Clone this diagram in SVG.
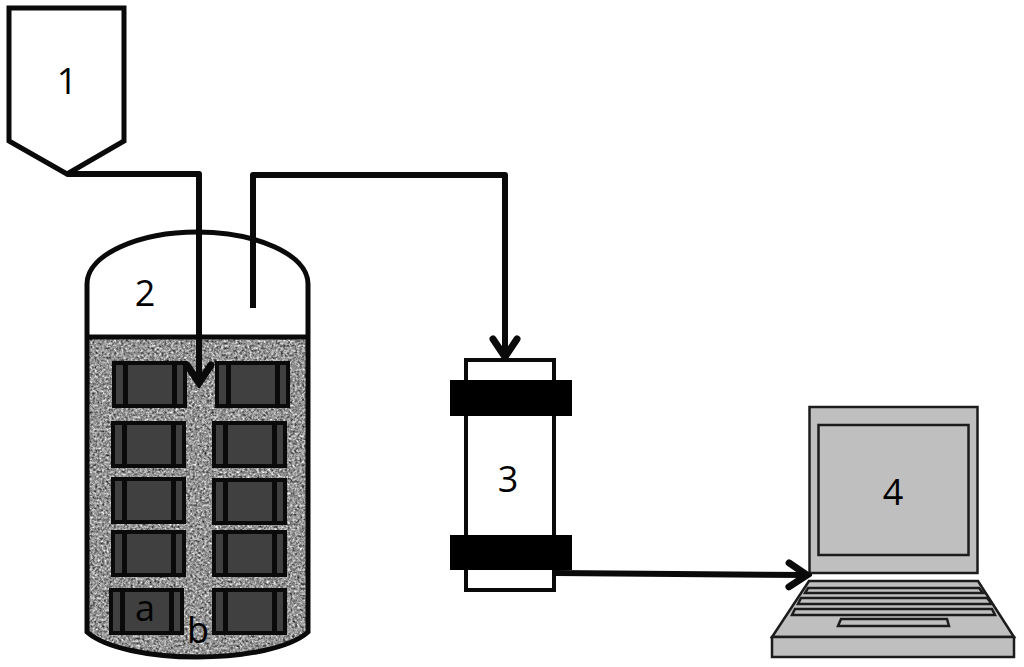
<svg xmlns="http://www.w3.org/2000/svg" xmlns:xlink="http://www.w3.org/1999/xlink" width="1024" height="667" viewBox="0 0 1024 667">
<style>
text{font-family:"Open Sans","Noto Sans","Liberation Sans",sans-serif;font-size:36px;fill:#000;text-anchor:middle}
.k{fill:none;stroke:#0a0a0a;stroke-width:6;stroke-linejoin:round}
.ln{fill:none;stroke:#0a0a0a;stroke-width:5}
.lp{fill:#bfbfbf;stroke:#1c1c1c;stroke-width:2.500;stroke-linejoin:miter}
.band{fill:#000}
</style>
<defs>
<filter id="noise" x="0" y="0" width="100%" height="100%" color-interpolation-filters="sRGB">
<feTurbulence type="fractalNoise" baseFrequency="0.42" numOctaves="2" seed="4"/>
<feColorMatrix type="matrix" values="0.6 0.6 0.6 0 -0.32  0.6 0.6 0.6 0 -0.32  0.6 0.6 0.6 0 -0.32  0 0 0 0 1"/>
<feGaussianBlur stdDeviation="0.6"/>
</filter>
<clipPath id="liquid"><path d="M86 337H309V634C290 650 245 659 197 659C150 659 105 650 86 634Z"/></clipPath>
<g id="blk">
<rect x="2" y="2" width="71" height="43" fill="#404040" stroke="#0a0a0a" stroke-width="4"/>
<rect x="11" y="2" width="5" height="43" fill="#0a0a0a"/>
<rect x="60" y="2" width="5" height="43" fill="#0a0a0a"/>
</g>
<marker id="ah" viewBox="0 0 28 34" refX="24" refY="17" markerWidth="28" markerHeight="34" markerUnits="userSpaceOnUse" orient="auto">
<path d="M5 5L23 17L5 29" fill="none" stroke="#0a0a0a" stroke-width="7" stroke-linecap="round" stroke-linejoin="miter"/>
</marker>
</defs>
<rect width="1024" height="667" fill="#fff"/>
<g id="node-1">
<path d="M9 8H124V141L67 174L9 141Z" fill="#fff" stroke="#0a0a0a" stroke-width="5"/>
<text x="67" y="94">1</text>
</g>
<g id="node-2">
<g clip-path="url(#liquid)"><rect x="86" y="337" width="223" height="322" fill="#999" filter="url(#noise)"/></g>
<path class="ln" d="M87 337V284C87 254 140 232 197 232C255 232 308 254 308 284V632C290 648 245 657 197 657C150 657 105 648 87 632V337H308"/>
<g id="node-a">
<use xlink:href="#blk" href="#blk" x="112" y="361"/>
<use xlink:href="#blk" href="#blk" x="215" y="361"/>
<use xlink:href="#blk" href="#blk" x="111" y="421"/>
<use xlink:href="#blk" href="#blk" x="212" y="421"/>
<use xlink:href="#blk" href="#blk" x="111" y="477"/>
<use xlink:href="#blk" href="#blk" x="212" y="478"/>
<use xlink:href="#blk" href="#blk" x="111" y="530"/>
<use xlink:href="#blk" href="#blk" x="212" y="530"/>
<use xlink:href="#blk" href="#blk" x="109" y="588"/>
<use xlink:href="#blk" href="#blk" x="212" y="588"/>
</g>
<text x="145" y="621">a</text>
<text x="198" y="643">b</text>
<text x="145" y="306">2</text>
</g>
<g id="node-3">
<rect x="466" y="360" width="88" height="230" fill="#fff" stroke="#0a0a0a" stroke-width="4"/>
<rect class="band" x="450" y="380" width="122" height="36"/>
<rect class="band" x="450" y="535" width="122" height="35"/>
<text x="508" y="492">3</text>
</g>
<g id="node-4">
<rect class="lp" x="809.500" y="407" width="168" height="166"/>
<rect class="lp" x="818.500" y="425" width="150" height="130"/>
<path class="lp" d="M809 581H978L1014 637H772Z"/>
<rect class="lp" x="772" y="637" width="242" height="20"/>
<path class="lp" d="M808 588H979L983 593H805Z"/>
<path class="lp" d="M801 598H987L992 604H798Z"/>
<path class="lp" d="M795 609H992L995 615H792Z"/>
<path class="lp" d="M841 619H947L949 626H838Z"/>
<text x="893" y="505">4</text>
</g>
<g id="connectors">
<path class="k" d="M67 174H199V384" marker-end="url(#ah)"/>
<path class="k" d="M253 308V175H505V358" marker-end="url(#ah)"/>
<path class="k" d="M556 573L808 575" marker-end="url(#ah)"/>
</g>
</svg>
